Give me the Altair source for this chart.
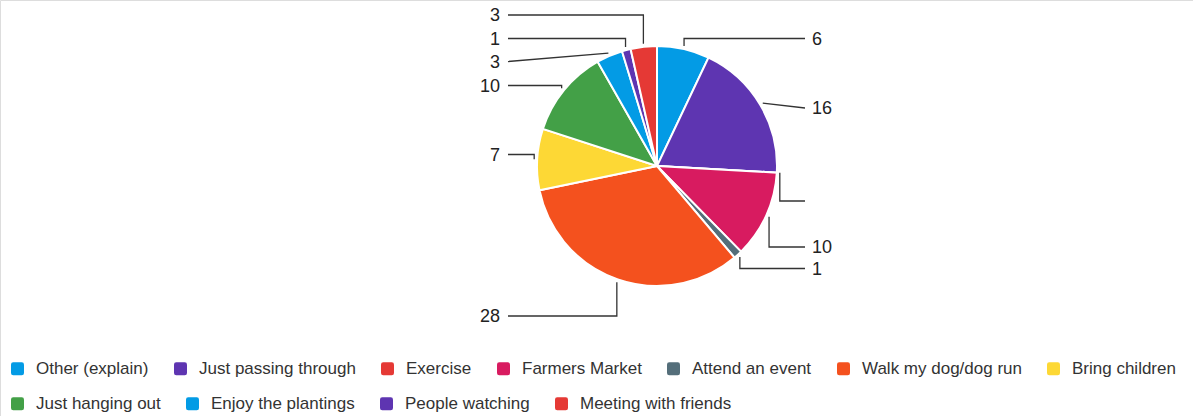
import math
import altair as alt
import pandas as pd

# Survey answers, in the order the slices run clockwise from 12 o'clock
categories = [
    "Other (explain)", "Just passing through", "Exercise", "Farmers Market",
    "Attend an event", "Walk my dog/dog run", "Bring children",
    "Just hanging out", "Enjoy the plantings", "People watching",
    "Meeting with friends",
]
counts = [6, 16, 0, 10, 1, 28, 7, 10, 3, 1, 3]
colors = [
    "#039be5", "#5e35b1", "#e53935", "#d81b60", "#546e7a", "#f4511e",
    "#fdd835", "#43a047", "#039be5", "#5e35b1", "#e53935",
]

# Legend rows (the key wraps after the seventh entry)
legend_row1 = categories[:7]
legend_row2 = categories[7:]

# Label layout: row (pixel y) of each value label and whether its leader bends
label_rows = [38.5, 108, 201, 247, 268.5, 316, 154.5, 85.5, 61.5, 38.5, 15]
leader_bent = [True, False, True, True, True, True, True, True, False, True, True]

W, H = 1193, 416
CX, CY, R = 657, 166, 120
ANCHOR_R = 123
RIGHT_END, RIGHT_TEXT = 805, 812
LEFT_END, LEFT_TEXT = 508, 500
FONT = "Liberation Sans"

total = sum(counts)
pie = pd.DataFrame({"idx": range(len(categories)), "category": categories, "count": counts})

# Leader lines and value labels derived from each slice's mid angle
line_rows, text_rows = [], []
cum = 0
for i, (cat, c) in enumerate(zip(categories, counts)):
    mid = (cum + c / 2) / total * 2 * math.pi
    cum += c
    ax = CX + ANCHOR_R * math.sin(mid)
    ay = CY - ANCHOR_R * math.cos(mid)
    right = math.sin(mid) > 0
    row = label_rows[i]
    end_x = RIGHT_END if right else LEFT_END
    pts = [(ax, ay)]
    if leader_bent[i]:
        pts.append((ax, row))
    pts.append((end_x, row))
    for k, (px, py) in enumerate(pts):
        line_rows.append({"seg": i, "k": k, "px": px, "py": py})
    text_rows.append({
        "seg": i,
        "side": "right" if right else "left",
        "tx": RIGHT_TEXT if right else LEFT_TEXT,
        "ty": row + 1,
        "label": str(c) if c > 0 else "",
    })
lines = pd.DataFrame(line_rows)
texts = pd.DataFrame(text_rows)

xs = alt.Scale(domain=[0, W], range=[0, W])
ys = alt.Scale(domain=[0, H], range=[0, H])

rounded_square = ("M-1,-0.65 Q-1,-1 -0.65,-1 L0.65,-1 Q1,-1 1,-0.65 L1,0.65 "
                  "Q1,1 0.65,1 L-0.65,1 Q-1,1 -1,0.65 Z")
color_scale = alt.Scale(domain=categories, range=colors)


def key(values, top):
    return alt.Legend(
        title=None, orient="none", legendX=9, legendY=top,
        direction="horizontal", columns=len(values), values=values,
        columnPadding=23, padding=0,
        symbolType=rounded_square, symbolSize=169, symbolStrokeWidth=0,
        symbolOpacity=1, labelOffset=10,
        labelFont=FONT, labelFontSize=17, labelColor="#333333",
        labelLimit=400,
    )


arcs = alt.Chart(pie).mark_arc(
    outerRadius=R, stroke="white", strokeWidth=2
).encode(
    theta=alt.Theta("count:Q", stack=True),
    order=alt.Order("idx:Q", sort="ascending"),
    color=alt.Color("category:N", scale=color_scale, sort=categories,
                    legend=key(legend_row1, 360)),
    x=alt.value(CX),
    y=alt.value(CY),
)

# Carrier for the second row of the key; draws nothing itself
second_row = alt.Chart(pie).mark_point(filled=True, size=0, opacity=0).encode(
    color=alt.Color("category:N", scale=color_scale, sort=categories,
                    legend=key(legend_row2, 395)),
    x=alt.value(CX),
    y=alt.value(CY),
)

leaders = alt.Chart(lines).mark_line(color="#333333", strokeWidth=1.3).encode(
    x=alt.X("px:Q", scale=xs, axis=None),
    y=alt.Y("py:Q", scale=ys, axis=None),
    detail="seg:N",
    order="k:Q",
)

right_labels = alt.Chart(texts).transform_filter(
    alt.datum.side == "right"
).mark_text(align="left", baseline="middle", font=FONT, fontSize=18, color="#222222").encode(
    x=alt.X("tx:Q", scale=xs, axis=None),
    y=alt.Y("ty:Q", scale=ys, axis=None),
    text="label:N",
)

left_labels = alt.Chart(texts).transform_filter(
    alt.datum.side == "left"
).mark_text(align="right", baseline="middle", font=FONT, fontSize=18, color="#222222").encode(
    x=alt.X("tx:Q", scale=xs, axis=None),
    y=alt.Y("ty:Q", scale=ys, axis=None),
    text="label:N",
)

chart = alt.layer(arcs, second_row, leaders, right_labels, left_labels).resolve_scale(
    color="independent"
).resolve_legend(
    color="independent"
).properties(
    width=W, height=H, padding=0,
    autosize=alt.AutoSizeParams(type="none"),
).configure_view(stroke=None).configure(background="white")

chart.save("out.html", embed_options={"renderer": "svg", "actions": False})
